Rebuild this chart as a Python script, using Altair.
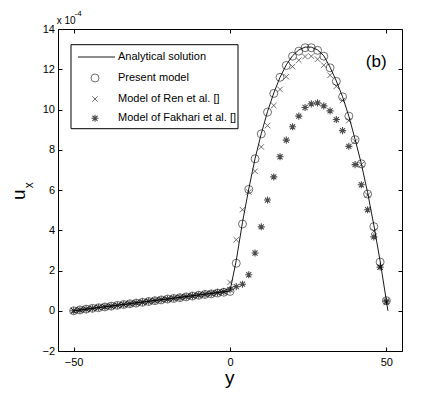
import altair as alt
import pandas as pd

# ---------------- data ----------------
y_grid = [-50, -48, -46, -44, -42, -40, -38, -36, -34, -32, -30, -28, -26,
          -24, -22, -20, -18, -16, -14, -12, -10, -8, -6, -4, -2, 0,
          2, 4, 6, 8, 10, 12, 14, 16, 18, 20, 22, 24, 26, 28, 30,
          32, 34, 36, 38, 40, 42, 44, 46, 48, 50]

present = [0.00, 0.04, 0.08, 0.12, 0.15, 0.19, 0.23, 0.27, 0.31, 0.35, 0.38, 0.42, 0.46,
           0.50, 0.54, 0.58, 0.61, 0.65, 0.69, 0.73, 0.77, 0.81, 0.84, 0.88, 0.92, 0.96,
           2.36, 4.31, 6.03, 7.55, 8.79, 9.87, 10.80, 11.60, 12.19, 12.65, 12.90, 13.07, 13.07,
           12.94, 12.65, 12.07, 11.40, 10.63, 9.67, 8.50, 7.30, 5.80, 4.18, 2.42, 0.50]

ren = [0.00, 0.04, 0.08, 0.12, 0.16, 0.19, 0.23, 0.27, 0.31, 0.35, 0.39, 0.42, 0.46,
       0.50, 0.54, 0.58, 0.62, 0.66, 0.69, 0.73, 0.77, 0.81, 0.85, 0.89, 0.93, 1.41,
       3.53, 5.02, 5.90, 6.93, 8.14, 9.20, 10.20, 11.00, 11.63, 12.13, 12.45, 12.63, 12.65,
       12.50, 12.20, 11.70, 11.15, 10.45, 9.45, 8.42, 7.26, 5.75, 3.95, 2.17, 0.41]

fakhari = [0.00, 0.04, 0.08, 0.12, 0.16, 0.20, 0.23, 0.27, 0.31, 0.35, 0.39, 0.43, 0.47,
           0.51, 0.55, 0.58, 0.62, 0.66, 0.70, 0.74, 0.78, 0.82, 0.86, 0.90, 0.95, 1.05,
           1.20, 1.32, 1.79, 2.87, 4.17, 5.50, 6.65, 7.65, 8.48, 9.14, 9.67, 10.10, 10.28,
           10.33, 10.18, 9.93, 9.50, 8.95, 8.17, 7.26, 6.26, 5.02, 3.67, 2.17, 0.48]

analytic_y = [-50, -25, 0, 2, 4, 6, 8, 10, 12, 14, 16, 18, 20, 22, 24, 26, 28, 30,
              32, 34, 36, 38, 40, 42, 44, 46, 48, 50.5]
analytic_u = [0.00, 0.49, 0.98, 2.50, 4.40, 6.05, 7.55, 8.80, 9.90, 10.82, 11.60, 12.22,
              12.67, 12.96, 13.10, 13.10, 12.96, 12.67, 12.10, 11.42, 10.63, 9.67, 8.52,
              7.30, 5.87, 4.25, 2.48, 0.00]

x_ticks = [-50, 0, 50]
y_ticks = [-2, 0, 2, 4, 6, 8, 10, 12, 14]
x_domain = [-55, 55]
y_domain = [-2, 14]

legend_labels = ["Analytical solution", "Present model",
                 "Model of Ren et al. []", "Model of Fakhari et al. []"]

FONT = "Liberation Sans"
W, H = 344, 322
X_SHAPE = "M-1,-1L1,1M-1,1L1,-1"
STAR_SHAPE = "M-1,0L1,0M0,-1L0,1M-0.72,-0.72L0.72,0.72M-0.72,0.72L0.72,-0.72"

line_df = pd.DataFrame({"y": analytic_y, "u": analytic_u})
pres_df = pd.DataFrame({"y": y_grid, "u": present})
ren_df = pd.DataFrame({"y": y_grid, "u": ren})
fak_df = pd.DataFrame({"y": y_grid, "u": fakhari})

xs = alt.Scale(domain=x_domain, nice=False, zero=False)
ys = alt.Scale(domain=y_domain, nice=False, zero=False)

inward = alt.ExprRef(expr="-4")

common_axis = dict(grid=False, domain=False, tickColor="black", tickWidth=1,
                   labelColor="black", labelFont=FONT, labelFontSize=11, title="")

line = alt.Chart(line_df).mark_line(color="black", strokeWidth=0.9).encode(
    x=alt.X("y:Q", scale=xs,
            axis=alt.Axis(orient="bottom", values=x_ticks, tickSize=inward,
                          labelPadding=9, **common_axis)),
    y=alt.Y("u:Q", scale=ys,
            axis=alt.Axis(orient="left", values=y_ticks, tickSize=inward,
                          labelPadding=7.5, **common_axis)),
)

circles = alt.Chart(pres_df).mark_point(
    shape="circle", filled=False, size=64, color="black", strokeWidth=0.8
).encode(
    x=alt.X("y:Q", scale=xs,
            axis=alt.Axis(orient="top", values=x_ticks, tickSize=inward,
                          labels=False, **common_axis)),
    y=alt.Y("u:Q", scale=ys,
            axis=alt.Axis(orient="right", values=y_ticks, tickSize=inward,
                          labels=False, **common_axis)),
)

crosses = alt.Chart(ren_df).mark_point(
    shape=X_SHAPE, filled=False, size=30, color="black", strokeWidth=0.8
).encode(
    x=alt.X("y:Q", scale=xs, axis=None),
    y=alt.Y("u:Q", scale=ys, axis=None),
)

stars = alt.Chart(fak_df).mark_point(
    shape=STAR_SHAPE, filled=False, size=50, color="black", strokeWidth=1.1
).encode(
    x=alt.X("y:Q", scale=xs, axis=None),
    y=alt.Y("u:Q", scale=ys, axis=None),
)

one = pd.DataFrame({"k": [0]})

# ---------------- legend (drawn by hand, MATLAB style) ----------------
leg_box = alt.Chart(one).mark_rect(fill="white", stroke="black", strokeWidth=1).encode(
    x=alt.value(13), x2=alt.value(180), y=alt.value(15.7), y2=alt.value(99.7)
)
row_y = [28, 49, 70, 89.3]
leg_line = alt.Chart(one).mark_rule(color="black", strokeWidth=0.9).encode(
    x=alt.value(20), x2=alt.value(57), y=alt.value(row_y[0])
)
leg_circle = alt.Chart(one).mark_point(shape="circle", filled=False, size=64,
                                       color="black", strokeWidth=0.8).encode(
    x=alt.value(37), y=alt.value(row_y[1]))
leg_cross = alt.Chart(one).mark_point(shape=X_SHAPE, filled=False, size=30,
                                      color="black", strokeWidth=0.8).encode(
    x=alt.value(37), y=alt.value(row_y[2]))
leg_star = alt.Chart(one).mark_point(shape=STAR_SHAPE, filled=False, size=50,
                                     color="black", strokeWidth=1.1).encode(
    x=alt.value(37), y=alt.value(row_y[3]))
leg_texts = [
    alt.Chart(one).mark_text(text=lab, align="left", baseline="middle", font=FONT,
                             fontSize=11, color="black").encode(
        x=alt.value(60), y=alt.value(ry))
    for lab, ry in zip(legend_labels, row_y)
]

# ---------------- annotations ----------------
def txt(t, x, y, size, align="center", baseline="alphabetic", angle=0):
    kw = dict(text=t, align=align, baseline=baseline, font=FONT, fontSize=size, color="black")
    if angle:
        kw["angle"] = angle
    return alt.Chart(one).mark_text(**kw).encode(x=alt.value(x), y=alt.value(y))

ann = [
    txt("x 10", -1.3, -5.3, 10, align="left"),
    txt("-4", 16.5, -12.8, 8, align="left"),
    txt("(b)", 318.2, 37.8, 17),
    txt("y", 171.7, 354.5, 19),
    txt("u", -33, 165.7, 19, angle=270),
    txt("x", -25.3, 156.2, 12, angle=270),
]

chart = alt.layer(
    line, circles, crosses, stars,
    leg_box, leg_line, leg_circle, leg_cross, leg_star, *leg_texts, *ann
).properties(
    width=W, height=H,
    padding={"left": 50, "top": 21, "right": 30, "bottom": 44},
    autosize=alt.AutoSizeParams(type="none"),
).configure_view(stroke="black", strokeWidth=1)

chart.save("out.html", embed_options={"renderer": "svg", "actions": False})
